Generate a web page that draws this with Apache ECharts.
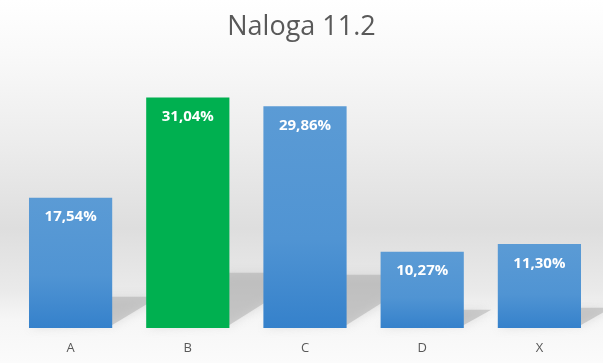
<!DOCTYPE html>
<html>
<head>
<meta charset="utf-8">
<script src="https://cdn.jsdelivr.net/npm/echarts@6/dist/echarts.min.js"></script>
<style>html,body{margin:0;padding:0;}#c{width:603px;height:363px;}</style>
</head>
<body>
<div id="c"></div>
<script>
var categories = ['A', 'B', 'C', 'D', 'X'];
var values = [17.54, 31.04, 29.86, 10.27, 11.30];
var highlightIndex = 1;
var titleText = 'Naloga 11.2';

function fmt(v) { return v.toFixed(2).replace('.', ',') + '%'; }

var chart = echarts.init(document.getElementById('c'));
var blueGrad = new echarts.graphic.LinearGradient(0, 0, 0, 1, [
  {offset: 0, color: '#5b9bd5'}, {offset: 0.6, color: '#5094d3'}, {offset: 1, color: '#3581cb'}
]);
chart.setOption({
  backgroundColor: new echarts.graphic.LinearGradient(0, 0, 0, 1, [
    {offset: 0, color: '#ffffff'},
    {offset: 0.15, color: '#f9f9f9'},
    {offset: 0.4, color: '#ececec'},
    {offset: 0.63, color: '#dedede'},
    {offset: 0.8, color: '#eaeaea'},
    {offset: 0.88, color: '#f6f6f6'},
    {offset: 1, color: '#fbfbfb'}
  ]),
  title: {
    text: titleText, left: 'center', top: 9,
    textStyle: {fontFamily: 'Open Sans', fontSize: 27, fontWeight: 'normal', color: '#595959'}
  },
  grid: {left: 12, right: 5, top: 68, bottom: 35},
  xAxis: {
    type: 'category', data: categories,
    axisLine: {show: false}, axisTick: {show: false},
    axisLabel: {color: '#595959', fontFamily: 'Open Sans', fontSize: 13, margin: 14}
  },
  yAxis: {type: 'value', min: 0, max: 35, show: false, splitLine: {show: false}},
  series: [
    {
      type: 'custom', z: 1, silent: true,
      data: values.map(function (v, i) { return [i, v]; }),
      renderItem: function (params, api) {
        var idx = api.value(0), v = api.value(1);
        var top = api.coord([idx, v]);
        var base = api.coord([idx, 0]);
        var bw = api.size([1, 0])[0] * 0.71;
        var h = base[1] - top[1];
        var x0 = base[0] - bw / 2, x1 = base[0] + bw / 2;
        var dy = h * 0.24, dx = dy * 1.5;
        return {
          type: 'polygon',
          shape: {points: [[x0, base[1]], [x1, base[1] - 3], [x1 + dx, base[1] - dy], [x0 + dx, base[1] - dy]]},
          style: {
            fill: 'rgba(170,170,170,0.5)',
            shadowBlur: 10, shadowColor: 'rgba(170,170,170,0.6)'
          }
        };
      }
    },
    {
      type: 'bar', z: 2, barWidth: '71%',
      data: values.map(function (v, i) {
        return {value: v, itemStyle: {color: i === highlightIndex ? '#00b050' : blueGrad}};
      }),
      label: {
        show: true, position: 'insideTop', distance: 12,
        color: '#ffffff', fontFamily: 'Open Sans', fontWeight: 'bold', fontSize: 15,
        formatter: function (p) { return fmt(p.value); }
      }
    }
  ]
});
</script>
</body>
</html>
